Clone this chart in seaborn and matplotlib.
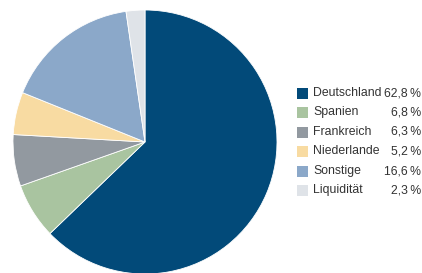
import matplotlib
matplotlib.use("Agg")
import matplotlib.pyplot as plt
from matplotlib.patches import Rectangle
import seaborn as sns

labels = ["Deutschland", "Spanien", "Frankreich", "Niederlande", "Sonstige", "Liquidität"]
shares = [62.8, 6.8, 6.3, 5.2, 16.6, 2.3]
colors = ["#024a79", "#a9c4a0", "#9299a0", "#f8dba2", "#8ba8c9", "#dfe3e8"]

sns.set_theme(style="white")
plt.rcParams["font.family"] = ["Liberation Sans", "DejaVu Sans"]

W, H = 422, 273
fig = plt.figure(figsize=(W / 100, H / 100), dpi=100)

# pie: centre (145, 142) px, radius 132 px
cx, cy, r = 145, 142, 132
ax = fig.add_axes([(cx - r) / W, (H - cy - r) / H, 2 * r / W, 2 * r / H])
ax.pie(shares, colors=colors, startangle=90, counterclock=False,
       wedgeprops={"linewidth": 0.6, "edgecolor": "white"})
ax.set_xlim(-1, 1)
ax.set_ylim(-1, 1)
ax.set_aspect("equal")
ax.axis("off")

# legend with right-aligned percentages
row_y = [93, 112.5, 132, 151.5, 171, 190.5]
for lab, val, col, y in zip(labels, shares, colors, row_y):
    fig.patches.append(Rectangle((297 / W, (H - y - 5.5) / H), 10.5 / W, 11 / H,
                                 transform=fig.transFigure, facecolor=col,
                                 edgecolor="none"))
    fig.text(313 / W, (H - y) / H, lab, fontsize=8.8, color="#333333",
             va="center", ha="left")
    fig.text(421 / W, (H - y) / H, f"{val:.1f}".replace(".", ",") + "\u2009%",
             fontsize=8.8, color="#333333", va="center", ha="right")

fig.savefig("out.png", dpi=100)
